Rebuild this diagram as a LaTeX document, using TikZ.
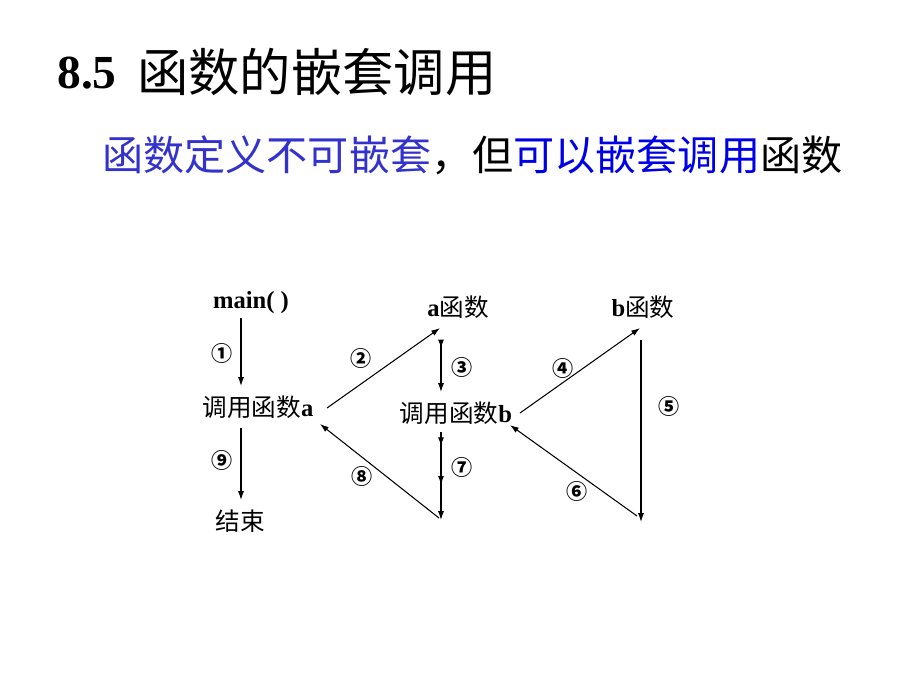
\documentclass[tikz,border=0pt]{standalone}
\usepackage{fontspec}
\usepackage{tikz}
\usetikzlibrary{arrows.meta,calc,decorations.markings}
\setmainfont{Liberation Serif}
\newfontfamily\cjk{Noto Sans CJK SC}
\newcommand\bl[1]{{\normalfont\bfseries #1}}
\definecolor{deftext}{RGB}{51,51,204}
\definecolor{calltext}{RGB}{0,0,230}

\tikzset{
  lbl/.style={inner sep=0pt,font=\fontsize{14}{16}\selectfont},
  num/.style={inner sep=0pt,font=\fontsize{12}{13}\cjk\bfseries},
  arr/.style={line width=0.6pt,-{Latex[length=5pt,width=3.4pt]}},
  tipat/.style={postaction={decorate,decoration={markings,
    mark=at position #1 with {\arrow{Latex[length=5pt,width=3.4pt]}}}}}
}

\begin{document}
\begin{tikzpicture}[x=0.02cm,y=-0.02cm]
\path[use as bounding box,fill=white] (0,0) rectangle (920,690);

\node [anchor=west,inner sep=0pt,font=\fontsize{27}{30}\selectfont\bfseries] (secno) at (57,73) {8.5};
\node [anchor=west,inner sep=0pt,font=\fontsize{29.2}{33}\cjk] (title) at (137,72) {函数的嵌套调用};
\node [anchor=west,inner sep=0pt,font=\fontsize{23.4}{27}\cjk] (rule) at (102,155)
{\textcolor{deftext}{函数定义不可嵌套}，但\textcolor{calltext}{可以嵌套调用}函数};

\node [lbl,font=\fontsize{14}{16}\selectfont\bfseries] (main) at (251,303) {main( )};
\node [lbl] (callA) at (258,407) {\cjk 调用函数\bl{a}};
\node [lbl] (end) at (240,521) {\cjk 结束};
\node [lbl] (afun) at (458,307) {\bl{a}\cjk 函数};
\node [lbl] (callB) at (456,413) {\cjk 调用函数\bl{b}};
\node [lbl] (bfun) at (643,307) {\bl{b}\cjk 函数};

\coordinate (aTop) at (441,340);
\coordinate (aBot) at (441,520);
\coordinate (bTop) at (641,340);
\coordinate (bBot) at (641,522);

\draw [arr] ($(main)+(-10,15)$) -- ($(callA)+(-17,-21)$);
\draw [arr] ($(callA)+(69,1)$) -- ($(afun)+(-18,21)$);
\draw [arr,tipat=0.16] (aTop) -- ($(callB)+(-15,-21)$);
\draw [arr] ($(callB)+(64,0)$) -- ($(bfun)+(-3,21)$);
\draw [arr] (bTop) -- (bBot);
\draw [arr] ($(bBot)+(-4,-6)$) -- ($(callB)+(54,12)$);
\draw [arr,tipat=0.16,tipat=0.6] ($(callB)+(-15,19)$) -- (aBot);
\draw [arr] ($(aBot)+(-2,-2)$) -- ($(callA)+(62,17)$);
\draw [arr] ($(callA)+(-17,21)$) -- ($(end)+(1,-21)$);

\node [num] (n1) at (222,353) {①};
\node [num] (n2) at (361,358) {②};
\node [num] (n3) at (462,367) {③};
\node [num] (n4) at (563,368) {④};
\node [num] (n5) at (669,406) {⑤};
\node [num] (n6) at (577,491) {⑥};
\node [num] (n7) at (462,467) {⑦};
\node [num] (n8) at (362,476) {⑧};
\node [num] (n9) at (222,460) {⑨};
\end{tikzpicture}
\end{document}
